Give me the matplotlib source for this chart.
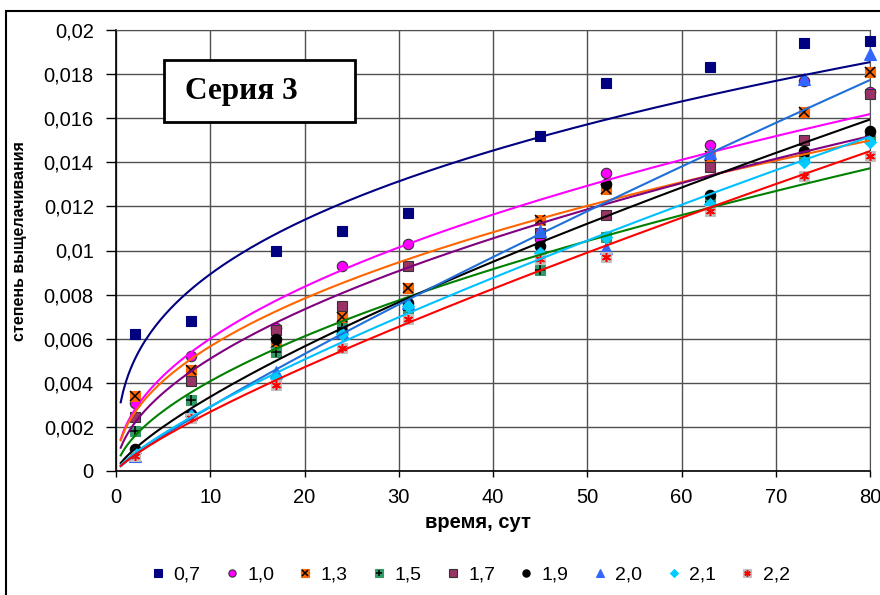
import numpy as np
import matplotlib
matplotlib.use("Agg")
import matplotlib.pyplot as plt
from matplotlib.patches import Rectangle
from matplotlib.legend_handler import HandlerTuple

plt.rcParams['font.family'] = ['Liberation Sans', 'DejaVu Sans']

# время отбора проб, сут
t = [2, 8, 17, 24, 31, 45, 52, 63, 73, 80]

# степень выщелачивания для каждой серии
s07 = [0.0062, 0.0068, 0.0100, 0.0109, 0.0117, 0.0152, 0.0176, 0.0183, 0.0194, 0.0195]
s10 = [0.0031, 0.0052, 0.0065, 0.0093, 0.0103, 0.0105, 0.0135, 0.0148, 0.0177, 0.0172]
s13 = [0.0034, 0.0046, 0.0058, 0.0070, 0.0083, 0.0114, 0.0128, 0.0143, 0.0163, 0.0181]
s15 = [0.0018, 0.0032, 0.0054, 0.0065, 0.0073, 0.0091, 0.0106, 0.0122, 0.0143, 0.0152]
s17 = [0.00245, 0.0041, 0.0064, 0.0075, 0.0093, 0.0108, 0.0116, 0.0138, 0.0150, 0.0171]
s19 = [0.0010, 0.0026, 0.0060, 0.0063, 0.0076, 0.0102, 0.0130, 0.0125, 0.0145, 0.0154]
s20 = [0.0007, 0.0026, 0.0045, 0.0063, 0.0076, 0.0109, 0.0101, 0.0144, 0.0178, 0.0189]
s21 = [0.0008, 0.0025, 0.0042, 0.0062, 0.0075, 0.0099, 0.0106, 0.0121, 0.0140, 0.0149]
s22 = [0.0007, 0.0024, 0.0039, 0.0056, 0.0069, 0.0096, 0.0097, 0.0118, 0.0134, 0.0143]

names = ["0,7", "1,0", "1,3", "1,5", "1,7", "1,9", "2,0", "2,1", "2,2"]
yticks = [0, 0.002, 0.004, 0.006, 0.008, 0.01, 0.012, 0.014, 0.016, 0.018, 0.02]
ylabels = ["0", "0,002", "0,004", "0,006", "0,008", "0,01", "0,012", "0,014", "0,016", "0,018", "0,02"]

# (данные, маркер, заливка, край, второй маркер поверх, цвет второго, цвет линии тренда)
series = [
    (s07, 's', '#000080', '#000080', None, None, '#000080'),
    (s10, 'o', '#FF00FF', '#333333', None, None, '#FF00FF'),
    (s13, 's', '#FF6600', '#FF6600', 'x', 'black', '#FF6600'),
    (s15, 's', '#339966', '#339966', '+', 'black', '#008000'),
    (s17, 's', '#993366', '#333333', None, None, '#800080'),
    (s19, 'o', 'black', 'black', None, None, 'black'),
    (s20, '^', '#3366FF', '#3366FF', None, None, '#1E6FD9'),
    (s21, 'D', '#00CCFF', '#00CCFF', None, None, '#00C0FF'),
    (s22, 's', '#C0C0C0', '#C0C0C0', (6, 2, 0), '#FF0000', '#FF0000'),
]

fig = plt.figure(figsize=(8.8, 5.95), dpi=100)
ax = fig.add_axes([116 / 880, 1 - 471 / 595, 754 / 880, 441 / 595])

tt = np.array(t, dtype=float)
xfit = np.linspace(0.5, 80, 300)
handles = []
for i, (vals, m, fc, ec, m2, c2, lc) in enumerate(series):
    z = 3 + i * 0.1
    ms = 7.5 if m != 'D' else 6
    if m == '^':
        ms = 8
    h1, = ax.plot(t, vals, ls='none', marker=m, ms=ms, mfc=fc, mec=ec, mew=0.8,
                  zorder=z, clip_on=False)
    hs = [h1]
    if m2 is not None:
        h2, = ax.plot(t, vals, ls='none', marker=m2, ms=6.5, mec=c2, mfc=c2, mew=1.1,
                      zorder=z + 0.01, clip_on=False)
        hs.append(h2)
    handles.append(tuple(hs))
    # степенная линия тренда y = a*x^b
    b, ln_a = np.polyfit(np.log(tt), np.log(np.array(vals)), 1)
    ax.plot(xfit, np.exp(ln_a) * xfit ** b, color=lc, lw=1.5, zorder=5)

ax.set_xlim(0, 80)
ax.set_ylim(0, 0.02)
ax.set_xticks(range(0, 81, 10))
ax.set_yticks(yticks)
ax.set_yticklabels(ylabels)
ax.tick_params(axis='both', labelsize=14.5, direction='out', width=1, colors='black')
ax.tick_params(axis='y', length=7, pad=9)
ax.tick_params(axis='x', length=4, pad=8)
ax.grid(True, color='#505050', lw=1)
ax.set_axisbelow(True)
for sp in ['top', 'right']:
    ax.spines[sp].set_color('#505050')
for sp in ['left', 'bottom']:
    ax.spines[sp].set_linewidth(1.2)

fig.text(478 / 880, 1 - 523 / 595, "время, сут", fontsize=14.5, fontweight='bold',
         ha='center', va='center')
fig.text(20 / 880, 1 - 241 / 595, "степень выщелачивания", rotation=90,
         fontsize=11.5, fontweight='bold', ha='center', va='center')

# надпись с номером серии в рамке
fig.add_artist(Rectangle((164 / 880, 1 - 122 / 595), 191 / 880, 62 / 595,
                         transform=fig.transFigure, fc='white', ec='black', lw=2, zorder=10))
fig.text(185 / 880, 1 - 92 / 595, "Серия 3", family='Liberation Serif', fontsize=22.5,
         fontweight='bold', ha='left', va='center', zorder=11)

fig.legend(handles, names, loc='center', bbox_to_anchor=(470 / 880, 1 - 575 / 595),
           ncol=9, frameon=False, fontsize=14, markerscale=0.7,
           handlelength=0.8, handletextpad=0.4, columnspacing=1.2,
           handler_map={tuple: HandlerTuple(ndivide=1)})

# внешняя рамка диаграммы
fig.add_artist(Rectangle((6 / 880, -0.05), 1.2, 1.05 - 11 / 595, transform=fig.transFigure,
                         fill=False, ec='black', lw=1.5))

fig.savefig("out.png", dpi=100)
